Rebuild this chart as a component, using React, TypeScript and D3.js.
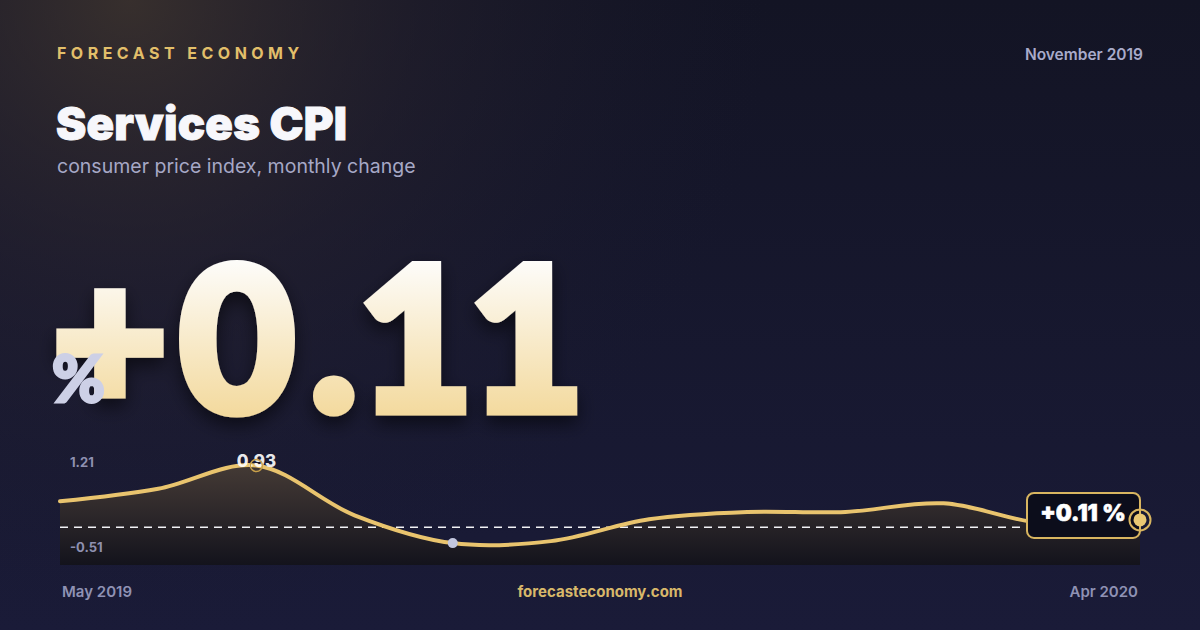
import React, { useEffect, useRef } from 'react'
import * as d3 from 'd3'

const months = [
  'May 2019', 'Jun 2019', 'Jul 2019', 'Aug 2019', 'Sep 2019', 'Oct 2019',
  'Nov 2019', 'Dec 2019', 'Jan 2020', 'Feb 2020', 'Mar 2020', 'Apr 2020'
]
const values = [0.39, 0.58, 0.93, 0.18, -0.24, -0.21, 0.12, 0.23, 0.23, 0.36, 0.06, 0.11]
const rangeLabels = [1.21, -0.51]

const FONT = 'Inter, "Noto Sans", sans-serif'
const BIG_FONT = 'Lato, Inter, sans-serif'
const GOLD = '#e9c46e'

export default function App() {
  const svgRef = useRef<SVGSVGElement | null>(null)

  useEffect(() => {
    document.body.style.margin = '0'
    if (!svgRef.current) {
      return
    }

    const width = 1200
    const height = 630
    const svg = d3.select(svgRef.current)
    svg.attr('viewBox', `0 0 ${width} ${height}`)
    svg.selectAll('*').remove()

    const defs = svg.append('defs')

    const bgLinear = defs.append('linearGradient').attr('id', 'bg-lin').attr('x1', 0).attr('y1', 0).attr('x2', 0).attr('y2', 1)
    bgLinear.append('stop').attr('offset', 0).attr('stop-color', '#131424')
    bgLinear.append('stop').attr('offset', 1).attr('stop-color', '#1a1b38')

    const glow = defs
      .append('radialGradient')
      .attr('id', 'bg-glow')
      .attr('gradientUnits', 'userSpaceOnUse')
      .attr('cx', 130)
      .attr('cy', 0)
      .attr('r', 640)
    glow.append('stop').attr('offset', 0).attr('stop-color', '#433830').attr('stop-opacity', 0.75)
    glow.append('stop').attr('offset', 0.45).attr('stop-color', '#2c2630').attr('stop-opacity', 0.42)
    glow.append('stop').attr('offset', 1).attr('stop-color', '#1a1a2e').attr('stop-opacity', 0)

    const bigFill = defs
      .append('linearGradient')
      .attr('id', 'big-fill')
      .attr('gradientUnits', 'userSpaceOnUse')
      .attr('x1', 0)
      .attr('y1', 262)
      .attr('x2', 0)
      .attr('y2', 418)
    bigFill.append('stop').attr('offset', 0).attr('stop-color', '#fdfcf9')
    bigFill.append('stop').attr('offset', 1).attr('stop-color', '#f3d99c')

    const shadow = defs.append('filter').attr('id', 'big-shadow').attr('x', '-10%').attr('y', '-10%').attr('width', '130%').attr('height', '140%')
    shadow
      .append('feDropShadow')
      .attr('dx', 0)
      .attr('dy', 8)
      .attr('stdDeviation', 9)
      .attr('flood-color', '#000000')
      .attr('flood-opacity', 0.55)

    svg.append('rect').attr('width', width).attr('height', height).attr('fill', 'url(#bg-lin)')
    svg.append('rect').attr('width', width).attr('height', height).attr('fill', 'url(#bg-glow)')

    // header
    svg
      .append('text')
      .attr('x', 57)
      .attr('y', 59)
      .attr('font-family', FONT)
      .attr('font-size', 16)
      .attr('font-weight', 700)
      .attr('letter-spacing', '0.28em')
      .attr('fill', '#e2bf6a')
      .text('FORECAST ECONOMY')

    svg
      .append('text')
      .attr('x', 1143)
      .attr('y', 60)
      .attr('text-anchor', 'end')
      .attr('font-family', FONT)
      .attr('font-size', 15.5)
      .attr('font-weight', 600)
      .attr('fill', '#a9abca')
      .text('November 2019')

    svg
      .append('text')
      .attr('x', 56)
      .attr('y', 140)
      .attr('font-family', FONT)
      .attr('font-size', 45.5)
      .attr('font-weight', 900)
      .attr('letter-spacing', '0.005em')
      .attr('fill', '#f7f7fb')
      .attr('stroke', '#f7f7fb')
      .attr('stroke-width', 1)
      .attr('stroke-linejoin', 'miter')
      .text('Services CPI')

    svg
      .append('text')
      .attr('x', 57)
      .attr('y', 173)
      .attr('font-family', FONT)
      .attr('font-size', 19.5)
      .attr('font-weight', 400)
      .attr('fill', '#a6a8c6')
      .text('consumer price index, monthly change')

    // big value
    const latest = values[values.length - 1]
    svg
      .append('text')
      .attr('x', 52)
      .attr('y', 411)
      .attr('dx', '0 11 15 0 -5')
      .attr('font-family', BIG_FONT)
      .attr('font-size', 200)
      .attr('font-weight', 900)
      .attr('fill', 'url(#big-fill)')
      .attr('stroke', 'url(#big-fill)')
      .attr('stroke-width', 9)
      .attr('stroke-linejoin', 'miter')
      .attr('filter', 'url(#big-shadow)')
      .text(`+${latest.toFixed(2)}`)

    svg
      .append('text')
      .attr('x', 52)
      .attr('y', 402)
      .attr('font-family', BIG_FONT)
      .attr('font-size', 64)
      .attr('font-weight', 900)
      .attr('fill', '#cdd0e6')
      .attr('stroke', '#cdd0e6')
      .attr('stroke-width', 3)
      .text('%')

    // sparkline
    const chartLeft = 60
    const chartRight = 1140
    const chartBottom = 565

    const xScale = d3.scalePoint<string>().domain(months).range([chartLeft, chartRight])
    const yScale = d3.scaleLinear().domain([rangeLabels[1], rangeLabels[0]]).range([561, 447])

    const areaFill = defs
      .append('linearGradient')
      .attr('id', 'area-fill')
      .attr('gradientUnits', 'userSpaceOnUse')
      .attr('x1', 0)
      .attr('y1', yScale(rangeLabels[0]))
      .attr('x2', 0)
      .attr('y2', chartBottom)
    areaFill.append('stop').attr('offset', 0).attr('stop-color', '#4d4139')
    areaFill.append('stop').attr('offset', 0.6).attr('stop-color', '#2b2629')
    areaFill.append('stop').attr('offset', 1).attr('stop-color', '#13131c')

    const points = months.map((m, i) => ({ month: m, value: values[i] }))

    const area = d3
      .area<{ month: string; value: number }>()
      .x((d) => xScale(d.month) ?? 0)
      .y0(chartBottom)
      .y1((d) => yScale(d.value))
      .curve(d3.curveCatmullRom)

    const line = d3
      .line<{ month: string; value: number }>()
      .x((d) => xScale(d.month) ?? 0)
      .y((d) => yScale(d.value))
      .curve(d3.curveCatmullRom)

    const chart = svg.append('g')

    chart.append('path').datum(points).attr('d', area).attr('fill', 'url(#area-fill)')

    chart
      .append('line')
      .attr('x1', chartLeft)
      .attr('x2', chartRight)
      .attr('y1', yScale(0))
      .attr('y2', yScale(0))
      .attr('stroke', '#f2f2f6')
      .attr('stroke-width', 1.4)
      .attr('stroke-dasharray', '8 6')

    chart
      .append('path')
      .datum(points)
      .attr('d', line)
      .attr('fill', 'none')
      .attr('stroke', GOLD)
      .attr('stroke-width', 4)
      .attr('stroke-linecap', 'round')

    chart
      .append('text')
      .attr('x', 70)
      .attr('y', yScale(rangeLabels[0]) + 20)
      .attr('font-family', FONT)
      .attr('font-size', 13)
      .attr('font-weight', 700)
      .attr('fill', '#8e90b0')
      .text(rangeLabels[0].toFixed(2))

    chart
      .append('text')
      .attr('x', 70)
      .attr('y', yScale(rangeLabels[1]) - 9)
      .attr('font-family', FONT)
      .attr('font-size', 13)
      .attr('font-weight', 700)
      .attr('fill', '#8e90b0')
      .text(rangeLabels[1].toFixed(2))

    // max annotation
    const maxIndex = d3.maxIndex(values)
    const maxX = xScale(months[maxIndex]) ?? 0
    const maxY = yScale(values[maxIndex])
    chart
      .append('text')
      .attr('x', maxX)
      .attr('y', maxY + 1)
      .attr('text-anchor', 'middle')
      .attr('font-family', FONT)
      .attr('font-size', 17)
      .attr('font-weight', 800)
      .attr('fill', 'rgba(255,255,255,0.92)')
      .text(values[maxIndex].toFixed(2))
    chart
      .append('circle')
      .attr('cx', maxX)
      .attr('cy', maxY)
      .attr('r', 6)
      .attr('fill', 'none')
      .attr('stroke', '#c9a04a')
      .attr('stroke-width', 1.5)

    // min marker
    const minIndex = d3.minIndex(values)
    chart
      .append('circle')
      .attr('cx', xScale(months[minIndex]) ?? 0)
      .attr('cy', yScale(values[minIndex]))
      .attr('r', 5)
      .attr('fill', '#c3c7df')

    // latest value callout
    const endX = xScale(months[months.length - 1]) ?? 0
    const endY = yScale(latest)
    chart
      .append('rect')
      .attr('x', endX - 113)
      .attr('y', endY - 27)
      .attr('width', 113)
      .attr('height', 45)
      .attr('rx', 7)
      .attr('fill', '#0c0d1b')
      .attr('stroke', '#d8b560')
      .attr('stroke-width', 2)
    chart
      .append('text')
      .attr('x', endX - 57)
      .attr('y', endY + 1.5)
      .attr('text-anchor', 'middle')
      .attr('font-family', FONT)
      .attr('font-size', 22.5)
      .attr('font-weight', 900)
      .attr('fill', '#ffffff')
      .attr('stroke', '#ffffff')
      .attr('stroke-width', 0.6)
      .text(`+${latest.toFixed(2)} %`)
    chart
      .append('circle')
      .attr('cx', endX)
      .attr('cy', endY)
      .attr('r', 10.5)
      .attr('fill', 'none')
      .attr('stroke', '#d8b560')
      .attr('stroke-width', 2)
    chart
      .append('circle')
      .attr('cx', endX)
      .attr('cy', endY)
      .attr('r', 6.5)
      .attr('fill', '#e9c873')

    // footer
    svg
      .append('text')
      .attr('x', 62)
      .attr('y', 597)
      .attr('font-family', FONT)
      .attr('font-size', 15)
      .attr('font-weight', 600)
      .attr('fill', '#8f92b4')
      .text(months[0])

    svg
      .append('text')
      .attr('x', 1138)
      .attr('y', 597)
      .attr('text-anchor', 'end')
      .attr('font-family', FONT)
      .attr('font-size', 15)
      .attr('font-weight', 600)
      .attr('fill', '#8f92b4')
      .text(months[months.length - 1])

    svg
      .append('text')
      .attr('x', 600)
      .attr('y', 597)
      .attr('text-anchor', 'middle')
      .attr('font-family', FONT)
      .attr('font-size', 15)
      .attr('font-weight', 700)
      .attr('fill', '#d8b86a')
      .text('forecasteconomy.com')
  }, [])

  return (
    <svg
      ref={svgRef}
      width={1200}
      height={630}
      style={{ display: 'block', position: 'absolute', left: 0, top: 0 }}
      role="img"
      aria-label="Services CPI"
    />
  )
}
